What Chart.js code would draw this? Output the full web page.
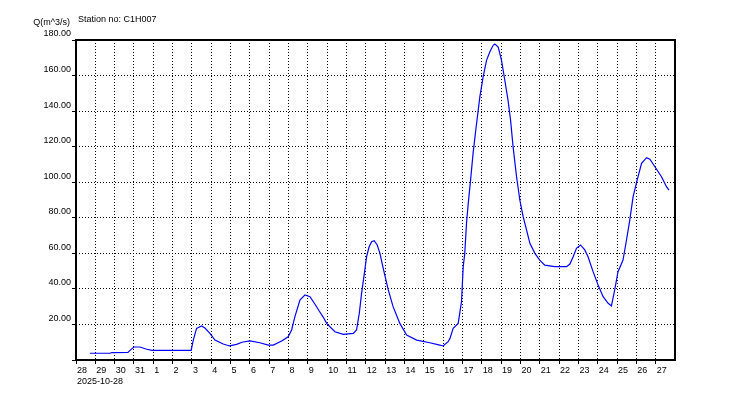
<!DOCTYPE html>
<html>
<head>
<meta charset="utf-8">
<title>Station C1H007</title>
<script src="https://cdn.jsdelivr.net/npm/chart.js@4.4.0/dist/chart.umd.min.js"></script>
<style>
    html, body { margin: 0; padding: 0; background: #ffffff; }
    canvas { display: block; }
</style>
</head>
<body>
<canvas id="flowChart" width="750" height="400"></canvas>
<script>
// Data (x = days since 2025-10-28 00:00, y = discharge m^3/s)
const dayOffsets = [
    0.72, 1.76, 1.86, 2.69, 2.85, 3.00, 3.31, 3.62, 3.93, 5.96,
    6.07, 6.24, 6.50, 6.67, 6.93, 7.19, 7.62, 7.95, 8.31, 8.59,
    9.00, 9.52, 9.95, 10.21, 10.64, 10.98, 11.16, 11.33, 11.59, 11.85,
    12.11, 12.36, 12.62, 12.80, 12.97, 13.40, 13.83, 14.35, 14.52, 14.66, 14.78, 14.90,
    15.04, 15.17, 15.30, 15.43, 15.59, 15.73, 15.90, 16.16, 16.41, 16.76,
    17.11, 17.63, 18.31, 18.83, 19.00, 19.26, 19.35, 19.52, 19.78, 19.95,
    20.04, 20.12, 20.21, 20.30, 20.42, 20.55, 20.69, 20.90, 21.07, 21.25,
    21.42, 21.59, 21.68, 21.85, 22.02, 22.19, 22.36, 22.49, 22.62, 22.80,
    22.97, 23.14, 23.32, 23.49, 23.75, 24.00, 24.26, 24.78, 25.39, 25.56,
    25.73, 25.90, 26.11, 26.33, 26.50, 26.76, 27.02, 27.28, 27.54, 27.71,
    27.88, 28.05, 28.31, 28.49, 28.66, 28.83, 29.04, 29.27, 29.53, 29.70,
    29.96, 30.30, 30.56, 30.69
];
const discharge = [
    3.8, 3.8, 4.2, 4.3, 6.0, 7.3, 7.3, 6.2, 5.4, 5.4,
    11.2, 17.8, 19.1, 18.0, 15.0, 11.2, 9.0, 7.9, 8.8, 10.0,
    10.7, 9.7, 8.4, 8.4, 10.7, 13.1, 16.9, 24.4, 33.7, 36.6,
    35.6, 31.5, 27.0, 24.0, 20.6, 15.9, 14.4, 15.0, 16.9, 26.2, 37.5, 46.9,
    58.1, 63.7, 66.5, 67.1, 64.7, 60.0, 51.6, 39.4, 30.0, 20.6,
    14.1, 11.2, 9.7, 8.4, 7.9, 10.3, 12.0, 17.8, 20.6, 32.8,
    52.5, 60.0, 76.9, 88.1, 101.2, 116.2, 129.4, 148.0, 159.3, 168.7,
    173.4, 177.0, 177.7, 176.0, 168.7, 157.5, 146.0, 135.0, 120.0, 103.1,
    90.0, 80.6, 73.1, 65.6, 60.0, 56.2, 53.4, 52.5, 52.5, 54.0,
    58.1, 62.8, 64.7, 61.9, 58.1, 49.7, 42.2, 35.6, 31.9, 30.4,
    39.4, 49.7, 56.2, 67.5, 78.7, 91.8, 101.2, 110.6, 113.8, 112.9,
    108.7, 103.1, 97.5, 95.6
];

// Tick labels
const dayLabels = ['28', '29', '30', '31', '1', '2', '3', '4', '5', '6', '7', '8', '9', '10', '11', '12',
    '13', '14', '15', '16', '17', '18', '19', '20', '21', '22', '23', '24', '25', '26', '27'];
const startDate = '2025-10-28';
const yTitle = 'Q(m^3/s)';
const stationText = 'Station no: C1H007';

const FONT = { family: 'Liberation Sans, Arial, sans-serif', size: 9 };

// Frame + header texts
const framePlugin = {
    id: 'frame',
    beforeDatasetsDraw(chart) {
        const { ctx, chartArea: a } = chart;
        ctx.save();
        ctx.strokeStyle = '#000000';
        ctx.lineWidth = 2;
        ctx.strokeRect(a.left, a.top, a.right - a.left, a.bottom - a.top);
        ctx.restore();
    },
    afterDraw(chart) {
        const { ctx } = chart;
        ctx.save();
        ctx.fillStyle = '#000000';
        ctx.font = `${FONT.size}px ${FONT.family}`;
        ctx.textBaseline = 'middle';
        ctx.textAlign = 'right';
        ctx.fillText(yTitle, 70, 23);
        ctx.textAlign = 'left';
        ctx.fillText(stationText, 78, 20);
        ctx.restore();
    }
};

const points = dayOffsets.map((d, i) => ({ x: d, y: discharge[i] }));

new Chart(document.getElementById('flowChart'), {
    type: 'line',
    data: {
        datasets: [{
            data: points,
            borderColor: '#0000ff',
            borderWidth: 1.2,
            pointRadius: 0,
            tension: 0,
            fill: false
        }]
    },
    options: {
        responsive: false,
        animation: false,
        layout: { padding: { left: 0, top: 40, right: 75, bottom: 0 } },
        plugins: {
            legend: { display: false },
            tooltip: { enabled: false }
        },
        scales: {
            x: {
                type: 'linear',
                min: 0,
                max: 31,
                afterFit: (scale) => { scale.height = 40; },
                afterBuildTicks: (scale) => {
                    scale.ticks = [];
                    for (let i = 0; i <= 31; i++) scale.ticks.push({ value: i });
                },
                grid: {
                    color: '#000000',
                    lineWidth: 1,
                    tickLength: 4,
                    tickColor: (c) => (c.tick && c.tick.value === 31) ? 'rgba(0,0,0,0)' : '#000000'
                },
                border: { display: false, dash: [1, 2] },
                ticks: {
                    autoSkip: false,
                    maxRotation: 0,
                    align: 'start',
                    labelOffset: 1,
                    padding: 1,
                    color: '#000000',
                    font: { ...FONT, lineHeight: 1.25 },
                    callback: (v) => {
                        if (v === 0) return [dayLabels[0], startDate];
                        return dayLabels[v] !== undefined ? dayLabels[v] : '';
                    }
                }
            },
            y: {
                min: 0,
                max: 180,
                afterFit: (scale) => { scale.width = 76; },
                grid: {
                    color: '#000000',
                    lineWidth: 1,
                    tickLength: 4,
                    tickColor: '#000000'
                },
                border: { display: false, dash: [1, 2] },
                ticks: {
                    stepSize: 20,
                    padding: 1,
                    labelOffset: -6,
                    color: '#000000',
                    font: FONT,
                    callback: (v) => v === 0 ? '' : v.toFixed(2)
                }
            }
        }
    },
    plugins: [framePlugin]
});
</script>
</body>
</html>
